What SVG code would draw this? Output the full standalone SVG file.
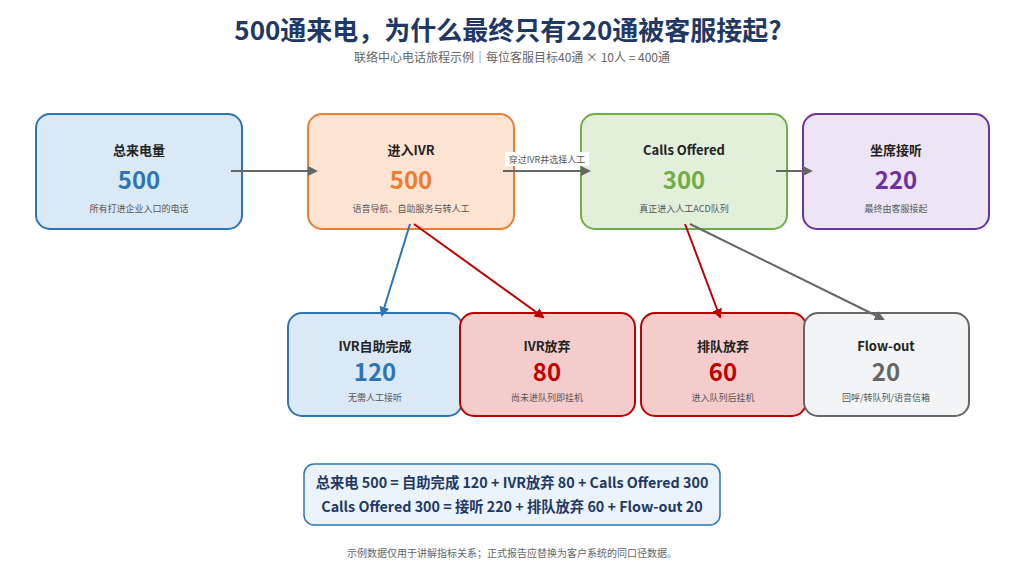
<svg xmlns="http://www.w3.org/2000/svg" width="1024" height="582" viewBox="0 0 1024 582">
<style>
text{font-family:"Noto Sans CJK SC","Noto Sans",sans-serif;text-anchor:middle}
.t{font-size:13px;font-weight:bold;fill:#222}
.n{font-size:24px;font-weight:bold}
.d{font-size:9px;fill:#555}
.box{stroke-width:2}
</style>
<defs>
<marker id="ag" viewBox="0 0 10 10" refX="8" refY="5" markerWidth="5" markerHeight="5" orient="auto"><path d="M0,0L10,5L0,10z" fill="#666"/></marker>
<marker id="ar" viewBox="0 0 10 10" refX="8" refY="5" markerWidth="5" markerHeight="5" orient="auto"><path d="M0,0L10,5L0,10z" fill="#c00000"/></marker>
<marker id="ab" viewBox="0 0 10 10" refX="8" refY="5" markerWidth="5" markerHeight="5" orient="auto"><path d="M0,0L10,5L0,10z" fill="#2e75b6"/></marker>
</defs>
<rect width="1024" height="582" fill="#fff"/>
<text x="508" y="40" font-size="26" font-weight="bold" fill="#1f3864">500通来电，为什么最终只有220通被客服接起?</text>
<text x="512" y="62" font-size="12" fill="#666">联络中心电话旅程示例｜每位客服目标40通 × 10人 = 400通</text>
<g id="n1"><rect class="box" x="36" y="114" width="206" height="115" rx="14" fill="#dbe9f7" stroke="#2e75b6"/><text class="t" x="139" y="155">总来电量</text><text class="n" x="139" y="189" fill="#2e75b6">500</text><text class="d" x="139" y="212">所有打进企业入口的电话</text></g>
<g id="n2"><rect class="box" x="308" y="114" width="206" height="115" rx="14" fill="#fde3d2" stroke="#ed7d31"/><text class="t" x="411" y="155">进入IVR</text><text class="n" x="411" y="189" fill="#ed7d31">500</text><text class="d" x="411" y="212">语音导航、自助服务与转人工</text></g>
<g id="n3"><rect class="box" x="581" y="114" width="206" height="115" rx="14" fill="#e2efda" stroke="#70ad47"/><text class="t" x="684" y="155">Calls Offered</text><text class="n" x="684" y="189" fill="#70ad47">300</text><text class="d" x="684" y="212">真正进入人工ACD队列</text></g>
<g id="n4"><rect class="box" x="803" y="114" width="186" height="115" rx="14" fill="#ebe5f5" stroke="#7030a0"/><text class="t" x="896" y="155">坐席接听</text><text class="n" x="896" y="189" fill="#7030a0">220</text><text class="d" x="896" y="212">最终由客服接起</text></g>
<g id="n5"><rect class="box" x="288" y="313" width="174" height="103" rx="14" fill="#dbe9f7" stroke="#2e75b6"/><text class="t" x="375" y="351">IVR自助完成</text><text class="n" x="375" y="381" fill="#2e75b6">120</text><text class="d" x="375" y="401">无需人工接听</text></g>
<g id="n6"><rect class="box" x="460" y="313" width="175" height="103" rx="14" fill="#f4cccc" stroke="#c00000"/><text class="t" x="547" y="351">IVR放弃</text><text class="n" x="547" y="381" fill="#c00000">80</text><text class="d" x="547" y="401">尚未进队列即挂机</text></g>
<g id="n7"><rect class="box" x="641" y="313" width="165" height="103" rx="14" fill="#f4cccc" stroke="#c00000"/><text class="t" x="723" y="351">排队放弃</text><text class="n" x="723" y="381" fill="#c00000">60</text><text class="d" x="723" y="401">进入队列后挂机</text></g>
<g id="n8"><rect class="box" x="804" y="313" width="165" height="103" rx="14" fill="#f3f4f5" stroke="#666"/><text class="t" x="886" y="351">Flow-out</text><text class="n" x="886" y="381" fill="#666">20</text><text class="d" x="886" y="401">回呼/转队列/语音信箱</text></g>
<g id="connectors" stroke-width="2" fill="none">
<line x1="231" y1="171" x2="316" y2="171" stroke="#666" marker-end="url(#ag)"/>
<line x1="503" y1="171" x2="589" y2="171" stroke="#666" marker-end="url(#ag)"/>
<line x1="776" y1="171" x2="811" y2="171" stroke="#666" marker-end="url(#ag)"/>
<line x1="410" y1="224" x2="382" y2="315" stroke="#2e75b6" marker-end="url(#ab)"/>
<line x1="414" y1="224" x2="543" y2="317" stroke="#c00000" marker-end="url(#ar)"/>
<line x1="685" y1="224" x2="720" y2="317" stroke="#c00000" marker-end="url(#ar)"/>
<line x1="690" y1="224" x2="883" y2="319" stroke="#666" marker-end="url(#ag)"/>
<rect x="505" y="152" width="84" height="14" fill="#fff" stroke="none"/>
<text x="547" y="163" font-size="9" fill="#555" stroke="none">穿过IVR并选择人工</text>
</g>
<g id="formula"><rect x="304" y="464" width="416" height="61" rx="10" fill="#eaf2fa" stroke="#2e75b6" stroke-width="1.5"/>
<text x="512" y="488" font-size="14.3" font-weight="bold" fill="#1f3864">总来电 500 = 自助完成 120 + IVR放弃 80 + Calls Offered 300</text>
<text x="512" y="512" font-size="14.3" font-weight="bold" fill="#1f3864">Calls Offered 300 = 接听 220 + 排队放弃 60 + Flow-out 20</text></g>
<text x="512" y="557" font-size="10" fill="#666">示例数据仅用于讲解指标关系；正式报告应替换为客户系统的同口径数据。</text>
</svg>
